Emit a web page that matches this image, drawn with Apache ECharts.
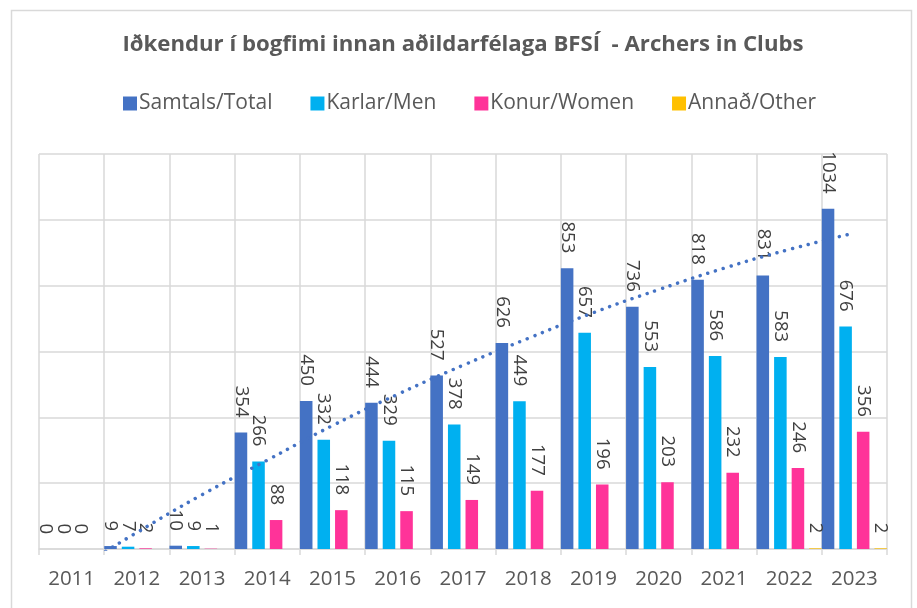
<!DOCTYPE html>
<html>
<head>
<meta charset="utf-8">
<script src="https://cdn.jsdelivr.net/npm/echarts@6/dist/echarts.min.js"></script>
<style>
  html, body { margin: 0; padding: 0; background: #fff; }
  #chart { width: 917px; height: 608px; }
</style>
</head>
<body>
<div id="chart"></div>
<script>
// members per year
const years = ['2011', '2012', '2013', '2014', '2015', '2016', '2017', '2018', '2019', '2020', '2021', '2022', '2023'];
const total = [0, 9, 10, 354, 450, 444, 527, 626, 853, 736, 818, 831, 1034];
const men = [0, 7, 9, 266, 332, 329, 378, 449, 657, 553, 586, 583, 676];
const women = [0, 2, 1, 88, 118, 115, 149, 177, 196, 203, 232, 246, 356];
const other = [null, null, null, null, null, null, null, null, null, null, null, 2, 2];
// dotted trend line of the total
const trend = [-70, 50, 165, 270, 375, 470, 558, 640, 718, 788, 853, 910, 960];

const font = 'Open Sans';
var chartDom = document.getElementById('chart');
var myChart = echarts.init(chartDom);

function barLabel() {
  return {
    show: true,
    position: 'top',
    rotate: -90,
    align: 'right',
    verticalAlign: 'middle',
    distance: 15,
    color: '#404040',
    fontFamily: font,
    fontSize: 18.5
  };
}

var option = {
  animation: false,
  graphic: [{
    type: 'rect',
    left: 9, top: 8,
    shape: { width: 900, height: 640 },
    style: { fill: 'none', stroke: '#D9D9D9', lineWidth: 1.5 },
    z: -1
  }],
  title: {
    text: 'Iðkendur í bogfimi innan aðildarfélaga BFSÍ  - Archers in Clubs',
    left: 458,
    textAlign: 'center',
    top: 29,
    textStyle: { fontFamily: font, fontSize: 22.2, fontWeight: 'bold', color: '#595959' }
  },
  legend: {
    top: 88,
    left: 118,
    itemWidth: 14,
    itemHeight: 14,
    itemGap: 38,
    icon: 'rect',
    data: ['Samtals/Total', 'Karlar/Men', 'Konur/Women', 'Annað/Other'],
    textStyle: { fontFamily: font, fontSize: 21, color: '#595959', padding: [0, 0, 0, -3] }
  },
  grid: { left: 39, right: 30, top: 154, bottom: 59, containLabel: false },
  xAxis: {
    type: 'category',
    data: years,
    axisLine: { lineStyle: { color: '#D9D9D9', width: 1.5 } },
    axisTick: { show: true, length: 6, lineStyle: { color: '#D9D9D9', width: 1.5 } },
    splitLine: { show: true, lineStyle: { color: '#D9D9D9', width: 1.5 } },
    axisLabel: { fontFamily: font, fontSize: 20.5, color: '#595959', margin: 20 }
  },
  yAxis: {
    type: 'value',
    min: 0,
    max: 1200,
    interval: 200,
    axisLabel: { show: false },
    axisLine: { show: false },
    axisTick: { show: false },
    splitLine: { lineStyle: { color: '#D9D9D9', width: 1.5 } }
  },
  series: [
    {
      name: 'Samtals/Total', type: 'bar', data: total,
      barGap: '40%', barCategoryGap: '0%',
      itemStyle: { color: '#4472C4' },
      label: barLabel()
    },
    {
      name: 'Karlar/Men', type: 'bar', data: men,
      itemStyle: { color: '#00B0F0' },
      label: barLabel()
    },
    {
      name: 'Konur/Women', type: 'bar', data: women,
      itemStyle: { color: '#FF3399' },
      label: barLabel()
    },
    {
      name: 'Annað/Other', type: 'bar', data: other,
      itemStyle: { color: '#FFC000' },
      label: barLabel()
    },
    {
      name: 'trend', type: 'line', data: trend,
      smooth: true,
      symbol: 'none',
      clip: true,
      silent: true,
      z: 5,
      lineStyle: { color: '#4472C4', width: 3.5, type: [0.01, 8], cap: 'round' }
    }
  ]
};

option && myChart.setOption(option);
</script>
</body>
</html>
